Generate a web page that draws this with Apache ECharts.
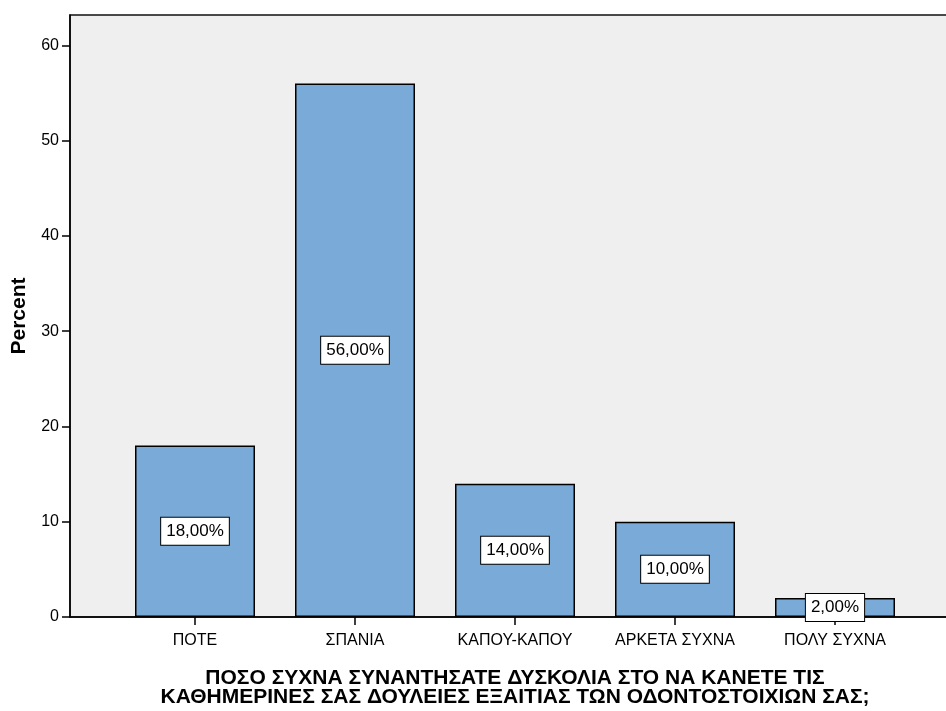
<!DOCTYPE html>
<html>
<head>
<meta charset="utf-8">
<script src="https://cdn.jsdelivr.net/npm/echarts@6/dist/echarts.min.js"></script>
<style>
  html, body { margin: 0; padding: 0; background: #ffffff; }
  #chart { width: 946px; height: 711px; }
</style>
</head>
<body>
<div id="chart"></div>
<script>
// Answer categories and their percentages
const categories = ['ΠΟΤΕ', 'ΣΠΑΝΙΑ', 'ΚΑΠΟΥ-ΚΑΠΟΥ', 'ΑΡΚΕΤΑ ΣΥΧΝΑ', 'ΠΟΛΥ ΣΥΧΝΑ'];
const percents = [18, 56, 14, 10, 2];
const yTicks = [0, 10, 20, 30, 40, 50, 60];
const xTitle = 'ΠΟΣΟ ΣΥΧΝΑ ΣΥΝΑΝΤΗΣΑΤΕ ΔΥΣΚΟΛΙΑ ΣΤΟ ΝΑ ΚΑΝΕΤΕ ΤΙΣ\nΚΑΘΗΜΕΡΙΝΕΣ ΣΑΣ ΔΟΥΛΕΙΕΣ ΕΞΑΙΤΙΑΣ ΤΩΝ ΟΔΟΝΤΟΣΤΟΙΧΙΩΝ ΣΑΣ;';
const yTitle = 'Percent';

const FONT = '"Liberation Sans", Arial, sans-serif';
const catIdx = categories.map((_, i) => i);

const chart = echarts.init(document.getElementById('chart'), null, { renderer: 'canvas' });

chart.setOption({
  animation: false,
  backgroundColor: '#ffffff',
  textStyle: { fontFamily: FONT },
  grid: {
    show: true,
    left: 70,
    top: 15,
    width: 890,
    height: 602,
    outerBoundsMode: 'none',
    containLabel: false,
    backgroundColor: '#efefef',
    borderColor: '#111111',
    borderWidth: 1.5
  },
  xAxis: {
    type: 'value',
    min: -0.78125,
    max: 4.78125,
    name: xTitle,
    nameLocation: 'middle',
    nameGap: 52,
    nameTextStyle: {
      fontFamily: FONT, fontSize: 21, fontWeight: 'bold', color: '#000',
      lineHeight: 19, align: 'center', verticalAlign: 'top'
    },
    splitLine: { show: false },
    axisLine: { show: true, onZero: false, lineStyle: { color: '#000', width: 1.5 } },
    axisTick: { show: true, inside: false, length: 8, customValues: catIdx, lineStyle: { color: '#000', width: 1.5 } },
    axisLabel: {
      customValues: catIdx,
      formatter: v => categories[Math.round(v)] || '',
      fontFamily: FONT, fontSize: 16, color: '#000', margin: 16
    }
  },
  yAxis: {
    type: 'value',
    min: 0,
    max: 63.2,
    interval: 10,
    name: yTitle,
    nameLocation: 'middle',
    nameGap: 40,
    nameTextStyle: { fontFamily: FONT, fontSize: 21, fontWeight: 'bold', color: '#000' },
    splitLine: { show: false },
    axisLine: { show: true, onZero: false, lineStyle: { color: '#000', width: 1.5 } },
    axisTick: { show: true, inside: false, length: 8, customValues: yTicks, lineStyle: { color: '#000', width: 1.5 } },
    axisLabel: {
      customValues: yTicks,
      fontFamily: FONT, fontSize: 16, color: '#000', margin: 11
    }
  },
  series: [{
    type: 'bar',
    barWidth: 120,
    data: percents.map((v, i) => [i, v]),
    itemStyle: { color: '#7aaad7', borderColor: '#000', borderWidth: 1.5 },
    label: {
      show: true,
      position: 'inside',
      formatter: p => p.value[1].toFixed(2).replace('.', ',') + '%',
      fontFamily: FONT, fontSize: 17, color: '#000',
      backgroundColor: '#ffffff',
      borderColor: '#000',
      borderWidth: 1,
      padding: [6, 5, 4, 5]
    }
  }]
});
</script>
</body>
</html>
